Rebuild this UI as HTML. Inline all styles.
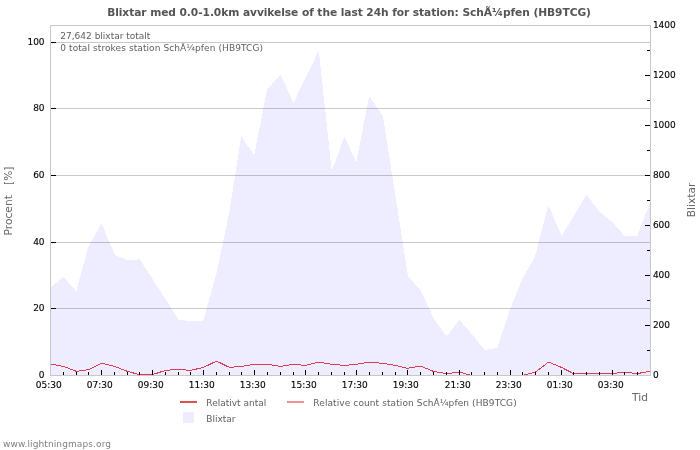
<!DOCTYPE html>
<html><head><meta charset="utf-8"><title>Blixtar</title>
<style>
html,body{margin:0;padding:0;background:#fff;}
body{width:700px;height:450px;overflow:hidden;font-family:"DejaVu Sans","Liberation Sans",sans-serif;}
svg{display:block}
text{font-family:"DejaVu Sans","Liberation Sans",sans-serif;}
.t{font-size:9px;fill:#000;stroke:#000;stroke-width:0.12px}
.g{font-size:9px;fill:#5e5e5e}
.a{font-size:10.67px;fill:#666;white-space:pre}
</style></head><body>
<svg width="700" height="450" viewBox="0 0 700 450">
<rect width="700" height="450" fill="#fff"/>
<polygon points="50.5,375.5 50.5,288 63.5,277.6 76.5,292.5 88.5,247.6 101.5,224.5 114.5,255.5 127.5,260.5 139.5,259.9 152.5,279.9 165.5,300.1 178.5,320.5 190.5,321.5 203.5,321.5 216.5,275.5 229.5,214 241.5,137.9 254.5,156.5 267.5,89.5 280.5,75.8 293.5,104 305.5,79.1 318.5,52.5 331.5,173.5 344.5,137.5 356.5,164 369.5,97.5 382.5,116.5 395.5,199.5 407.5,276.5 420.5,291 433.5,319 446.5,337.2 459.5,320.8 471.5,334.5 484.5,350.5 497.5,348.5 510.5,309.5 522.5,279.5 535.5,256.5 548.5,206.5 561.5,236.9 573.5,217.5 586.5,195.5 599.5,212.5 612.5,222.9 624.5,236.5 637.5,236.5 650.5,203 650.5,375.5" fill="#ededff" stroke="#ededff" stroke-width="1" stroke-linejoin="round" shape-rendering="crispEdges"/>
<rect x="51" y="308" width="599" height="1" fill="#000" opacity="0.21"/>
<rect x="51" y="242" width="599" height="1" fill="#000" opacity="0.21"/>
<rect x="51" y="175" width="599" height="1" fill="#000" opacity="0.21"/>
<rect x="51" y="108" width="599" height="1" fill="#000" opacity="0.21"/>
<rect x="51" y="42" width="599" height="1" fill="#000" opacity="0.21"/>
<polyline points="50.5,364 63.5,366.4 76.5,371.4 88.5,369.6 101.5,363.1 114.5,366.4 127.5,371.4 139.5,374.6 152.5,374.6 165.5,370.4 178.5,369.3 190.5,370.4 203.5,367.4 216.5,361.1 229.5,367.4 241.5,366.4 254.5,364.3 267.5,364.3 280.5,366.4 293.5,364.3 305.5,365.4 318.5,362.1 331.5,364.3 344.5,365.4 356.5,364.3 369.5,362.1 382.5,363.3 395.5,365.4 407.5,368.3 420.5,366.1 433.5,371.4 446.5,373.6 459.5,372.1 471.5,375.5 484.5,375.5 497.5,375.5 510.5,375.5 522.5,375.5 535.5,372.1 548.5,362.1 561.5,367.4 573.5,373.6 586.5,373.6 599.5,373.6 612.5,373.6 624.5,372.1 637.5,373.6 650.5,371.1" fill="none" stroke="#d83c54" stroke-width="1" shape-rendering="crispEdges"/>
<rect x="50" y="25" width="601" height="1" fill="#c8c8c8"/>
<rect x="50" y="375" width="601" height="1" fill="#c8c8c8"/>
<rect x="50" y="25" width="1" height="351" fill="#c8c8c8"/>
<rect x="650" y="25" width="1" height="351" fill="#c8c8c8"/>
<rect x="63" y="372" width="1" height="3" fill="#000"/>
<rect x="76" y="372" width="1" height="3" fill="#000"/>
<rect x="88" y="372" width="1" height="3" fill="#000"/>
<rect x="101" y="370" width="1" height="5" fill="#000"/>
<rect x="114" y="372" width="1" height="3" fill="#000"/>
<rect x="127" y="372" width="1" height="3" fill="#000"/>
<rect x="139" y="372" width="1" height="3" fill="#000"/>
<rect x="152" y="370" width="1" height="5" fill="#000"/>
<rect x="165" y="372" width="1" height="3" fill="#000"/>
<rect x="178" y="372" width="1" height="3" fill="#000"/>
<rect x="190" y="372" width="1" height="3" fill="#000"/>
<rect x="203" y="370" width="1" height="5" fill="#000"/>
<rect x="216" y="372" width="1" height="3" fill="#000"/>
<rect x="229" y="372" width="1" height="3" fill="#000"/>
<rect x="241" y="372" width="1" height="3" fill="#000"/>
<rect x="254" y="370" width="1" height="5" fill="#000"/>
<rect x="267" y="372" width="1" height="3" fill="#000"/>
<rect x="280" y="372" width="1" height="3" fill="#000"/>
<rect x="293" y="372" width="1" height="3" fill="#000"/>
<rect x="305" y="370" width="1" height="5" fill="#000"/>
<rect x="318" y="372" width="1" height="3" fill="#000"/>
<rect x="331" y="372" width="1" height="3" fill="#000"/>
<rect x="344" y="372" width="1" height="3" fill="#000"/>
<rect x="356" y="370" width="1" height="5" fill="#000"/>
<rect x="369" y="372" width="1" height="3" fill="#000"/>
<rect x="382" y="372" width="1" height="3" fill="#000"/>
<rect x="395" y="372" width="1" height="3" fill="#000"/>
<rect x="407" y="370" width="1" height="5" fill="#000"/>
<rect x="420" y="372" width="1" height="3" fill="#000"/>
<rect x="433" y="372" width="1" height="3" fill="#000"/>
<rect x="446" y="372" width="1" height="3" fill="#000"/>
<rect x="459" y="370" width="1" height="5" fill="#000"/>
<rect x="471" y="372" width="1" height="3" fill="#000"/>
<rect x="484" y="372" width="1" height="3" fill="#000"/>
<rect x="497" y="372" width="1" height="3" fill="#000"/>
<rect x="510" y="370" width="1" height="5" fill="#000"/>
<rect x="522" y="372" width="1" height="3" fill="#000"/>
<rect x="535" y="372" width="1" height="3" fill="#000"/>
<rect x="548" y="372" width="1" height="3" fill="#000"/>
<rect x="561" y="370" width="1" height="5" fill="#000"/>
<rect x="573" y="372" width="1" height="3" fill="#000"/>
<rect x="586" y="372" width="1" height="3" fill="#000"/>
<rect x="599" y="372" width="1" height="3" fill="#000"/>
<rect x="612" y="370" width="1" height="5" fill="#000"/>
<rect x="624" y="372" width="1" height="3" fill="#000"/>
<rect x="637" y="372" width="1" height="3" fill="#000"/>
<text class="t" x="48.8" y="388.1" text-anchor="middle">05:30</text>
<text class="t" x="99.8" y="388.1" text-anchor="middle">07:30</text>
<text class="t" x="150.8" y="388.1" text-anchor="middle">09:30</text>
<text class="t" x="201.8" y="388.1" text-anchor="middle">11:30</text>
<text class="t" x="252.8" y="388.1" text-anchor="middle">13:30</text>
<text class="t" x="303.8" y="388.1" text-anchor="middle">15:30</text>
<text class="t" x="354.8" y="388.1" text-anchor="middle">17:30</text>
<text class="t" x="405.8" y="388.1" text-anchor="middle">19:30</text>
<text class="t" x="457.8" y="388.1" text-anchor="middle">21:30</text>
<text class="t" x="508.8" y="388.1" text-anchor="middle">23:30</text>
<text class="t" x="559.8" y="388.1" text-anchor="middle">01:30</text>
<text class="t" x="610.8" y="388.1" text-anchor="middle">03:30</text>
<text class="t" x="44.6" y="378.1" text-anchor="end">0</text>
<rect x="51" y="308" width="5" height="1" fill="#000"/>
<text class="t" x="44.6" y="311.1" text-anchor="end">20</text>
<rect x="51" y="242" width="5" height="1" fill="#000"/>
<text class="t" x="44.6" y="245.1" text-anchor="end">40</text>
<rect x="51" y="175" width="5" height="1" fill="#000"/>
<text class="t" x="44.6" y="178.1" text-anchor="end">60</text>
<rect x="51" y="108" width="5" height="1" fill="#000"/>
<text class="t" x="44.6" y="111.1" text-anchor="end">80</text>
<rect x="51" y="42" width="5" height="1" fill="#000"/>
<text class="t" x="44.6" y="45.1" text-anchor="end">100</text>
<text class="t" x="652.9" y="378.2">0</text>
<rect x="647" y="350" width="3" height="1" fill="#000"/>
<rect x="645" y="325" width="5" height="1" fill="#000"/>
<text class="t" x="652.9" y="328.2">200</text>
<rect x="647" y="300" width="3" height="1" fill="#000"/>
<rect x="645" y="275" width="5" height="1" fill="#000"/>
<text class="t" x="652.9" y="278.2">400</text>
<rect x="647" y="250" width="3" height="1" fill="#000"/>
<rect x="645" y="225" width="5" height="1" fill="#000"/>
<text class="t" x="652.9" y="228.2">600</text>
<rect x="647" y="200" width="3" height="1" fill="#000"/>
<rect x="645" y="175" width="5" height="1" fill="#000"/>
<text class="t" x="652.9" y="178.2">800</text>
<rect x="647" y="150" width="3" height="1" fill="#000"/>
<rect x="645" y="125" width="5" height="1" fill="#000"/>
<text class="t" x="652.9" y="128.2">1000</text>
<rect x="647" y="100" width="3" height="1" fill="#000"/>
<rect x="645" y="75" width="5" height="1" fill="#000"/>
<text class="t" x="652.9" y="78.2">1200</text>
<rect x="647" y="50" width="3" height="1" fill="#000"/>
<text class="t" x="652.9" y="28.2">1400</text>
<text x="349" y="16" text-anchor="middle" style="font-size:10.67px;font-weight:bold;fill:#545454;letter-spacing:-0.07px">Blixtar med 0.0-1.0km avvikelse of the last 24h for station: Sch&#195;&#188;pfen (HB9TCG)</text>
<text class="g" x="60.3" y="39">27,642 blixtar totalt</text>
<text class="g" x="60.3" y="51" style="letter-spacing:0.085px">0 total strokes station Sch&#195;&#188;pfen (HB9TCG)</text>
<text class="a" transform="translate(12,201) rotate(-90)" text-anchor="middle" xml:space="preserve">Procent   [%]</text>
<text class="a" transform="translate(695,200) rotate(-90)" text-anchor="middle">Blixtar</text>
<text class="a" x="648" y="401" text-anchor="end">Tid</text>
<rect x="180" y="401" width="17" height="2" fill="#e05050"/>
<text class="g" x="206.3" y="405.5">Relativt antal</text>
<rect x="287" y="401" width="17" height="2" fill="#f49090"/>
<text class="g" x="313.3" y="405.5" style="letter-spacing:0.1px">Relative count station Sch&#195;&#188;pfen (HB9TCG)</text>
<rect x="183" y="412" width="11" height="11" fill="#ededff"/>
<text class="g" x="206.3" y="421.7">Blixtar</text>
<text class="g" x="3" y="446.6" style="fill:#808080;letter-spacing:0.1px">www.lightningmaps.org</text>
</svg></body></html>
